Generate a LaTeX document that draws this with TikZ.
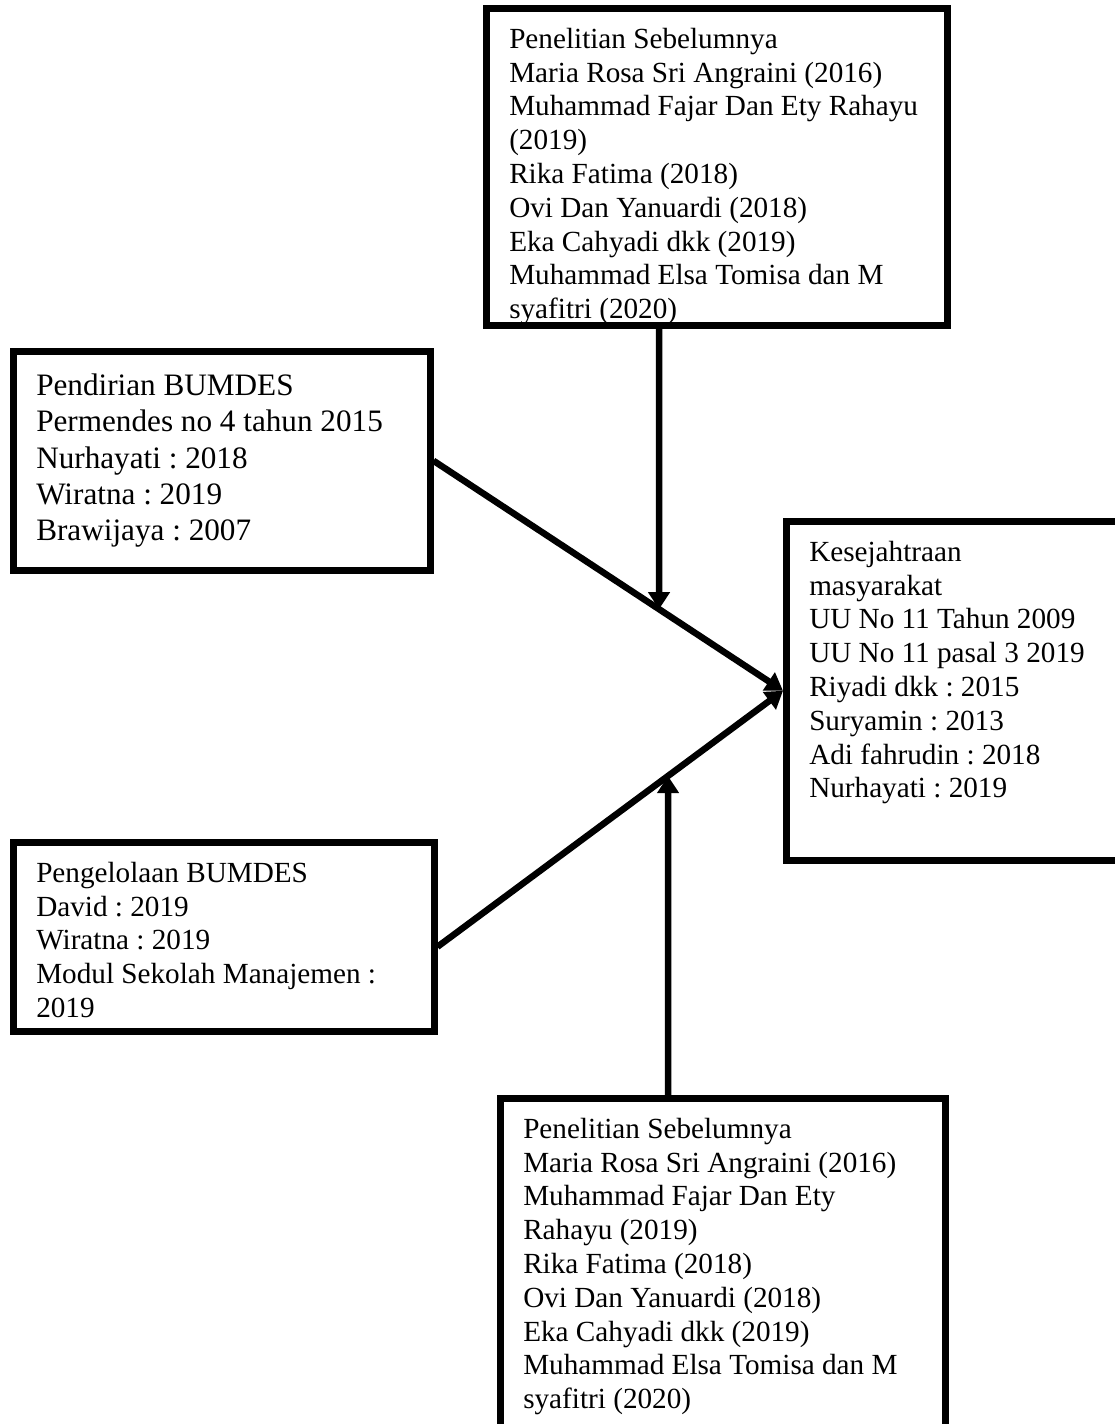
\documentclass[tikz,border=0pt]{standalone}
\usepackage{fontspec}
\setmainfont{Liberation Serif}
\usetikzlibrary{arrows.meta}
\frenchspacing

\begin{document}
\begin{tikzpicture}[x=0.5pt,y=-0.5pt,box/.style={draw,line width=3.25pt,anchor=north west,align=flush left,inner xsep=11.5pt,inner ysep=10pt,text height=10pt,font=\fontsize{14.6}{16.9}\selectfont},arrow/.style={-{Triangle[width=10.5pt,length=8.5pt]},line width=3.25pt}]
\useasboundingbox (0,0) rectangle (1114,1424);
\begin{scope}
\clip (0,0) rectangle (1114,328);
\node[box,text width=207.5pt,text depth=128.5pt] (prev1) at (483,5) {Penelitian Sebelumnya\\Maria Rosa Sri Angraini (2016)\\Muhammad Fajar Dan Ety Rahayu\\(2019)\\Rika Fatima (2018)\\Ovi Dan Yanuardi (2018)\\Eka Cahyadi dkk (2019)\\Muhammad Elsa Tomisa dan M\\syafitri (2020)};
\end{scope}
\node[box,font=\fontsize{15.6}{18.2}\selectfont,text height=12pt,text width=185.5pt,text depth=77.5pt] (pendirian) at (10,348) {Pendirian BUMDES\\Permendes no 4 tahun 2015\\Nurhayati : 2018\\Wiratna : 2019\\Brawijaya : 2007};
\node[box,text width=187.5pt,text depth=64.5pt] (kelola) at (10,839) {Pengelolaan BUMDES\\David : 2019\\Wiratna : 2019\\Modul Sekolah Manajemen :\\2019};
\node[box,text width=145pt,text depth=139.5pt] (kesej) at (783,518) {Kesejahtraan\\masyarakat\\UU No 11 Tahun 2009\\UU No 11 pasal 3 2019\\Riyadi dkk : 2015\\Suryamin : 2013\\Adi fahrudin : 2018\\Nurhayati : 2019};
\node[box,text width=199.5pt,text depth=141pt] (prev2) at (497,1095) {Penelitian Sebelumnya\\Maria Rosa Sri Angraini (2016)\\Muhammad Fajar Dan Ety\\Rahayu (2019)\\Rika Fatima (2018)\\Ovi Dan Yanuardi (2018)\\Eka Cahyadi dkk (2019)\\Muhammad Elsa Tomisa dan M\\syafitri (2020)};
\coordinate (kelolaout) at ([yshift=-5pt]kelola.east);
\coordinate (topx) at (659,0); \coordinate (topy) at (659,1424);
\coordinate (botx) at (668,0); \coordinate (boty) at (668,1424);
\draw[arrow] (pendirian.east) -- (kesej.west);
\draw[arrow] (kelolaout) -- (kesej.west);
\draw[arrow] (prev1.south -| topx) -- (intersection of topx--topy and pendirian.east--kesej.west);
\draw[arrow] (prev2.north -| botx) -- (intersection of botx--boty and kelolaout--kesej.west);
\end{tikzpicture}
\end{document}
